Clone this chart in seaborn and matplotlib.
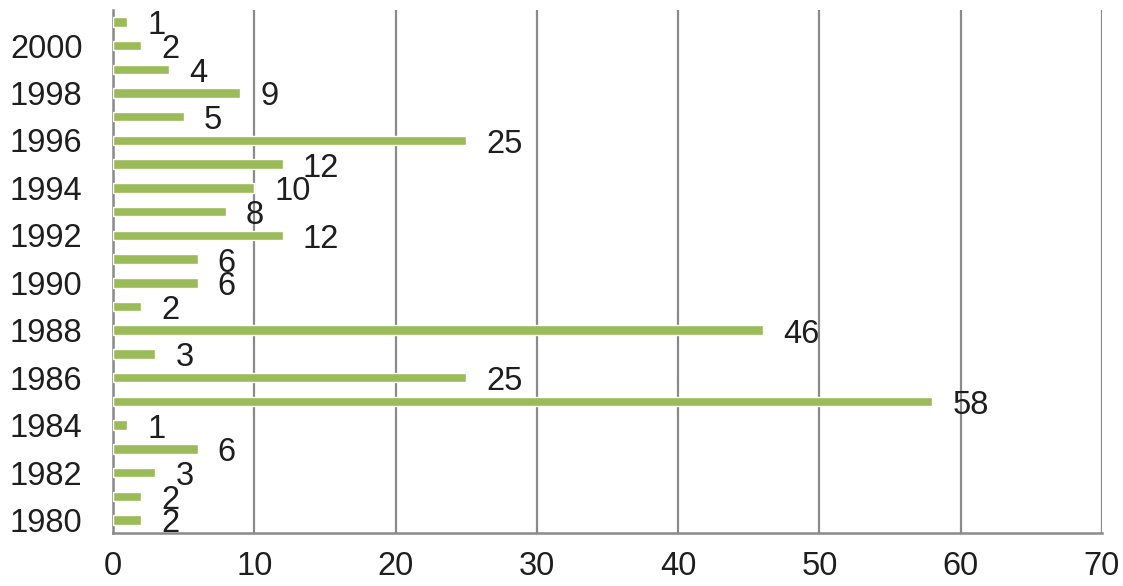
import seaborn as sns
import matplotlib.pyplot as plt
import pandas as pd

# counts per year (1980 -> 2001)
years = list(range(1980, 2002))
counts = [2, 2, 3, 6, 1, 58, 25, 3, 46, 2, 6, 6, 12, 8, 10, 12, 25, 5, 9, 4, 2, 1]
x_ticks = [0, 10, 20, 30, 40, 50, 60, 70]

bar_color = '#9bbb59'
grid_color = '#8a8a8a'
text_color = '#1e1e1e'

df = pd.DataFrame({'year': [str(y) for y in years], 'count': counts})
order = [str(y) for y in reversed(years)]  # newest at top

sns.set_style('white')
plt.rcParams['font.family'] = ['Liberation Sans', 'DejaVu Sans']

fig = plt.figure(figsize=(11.23, 5.86), dpi=100)
ax = fig.add_axes([0.1006, 0.0904, 0.8807, 0.8926])

sns.barplot(data=df, x='count', y='year', order=order, color=bar_color,
            width=0.4, saturation=1, ax=ax, zorder=3)

# data labels, a little right of and below each bar end
for i, yr in enumerate(order):
    val = df.loc[df['year'] == yr, 'count'].iloc[0]
    ax.annotate(str(val), xy=(val, i), xytext=(20, -4), textcoords='offset pixels',
                ha='left', va='center', fontsize=23.5, color=text_color, zorder=5)

ax.set_xlim(0, 70)
ax.set_ylim(len(order) - 0.45, -0.5)
ax.set_xticks(x_ticks)
ax.set_xticklabels([str(t) for t in x_ticks])
even = [i for i, yr in enumerate(order) if int(yr) % 2 == 0]
ax.set_yticks(even)
ax.set_yticklabels([order[i] for i in even])
ax.set_xlabel('')
ax.set_ylabel('')

ax.grid(axis='x', color=grid_color, linewidth=1.6, zorder=0)
ax.grid(axis='y', visible=False)
ax.tick_params(axis='both', length=0, labelsize=23.5, colors=text_color)
ax.tick_params(axis='x', pad=13)
ax.tick_params(axis='y', pad=22)

for side in ['top', 'right']:
    ax.spines[side].set_visible(False)
for side in ['left', 'bottom']:
    ax.spines[side].set_color(grid_color)
    ax.spines[side].set_linewidth(1.8)

plt.savefig('out.png', dpi=100)
